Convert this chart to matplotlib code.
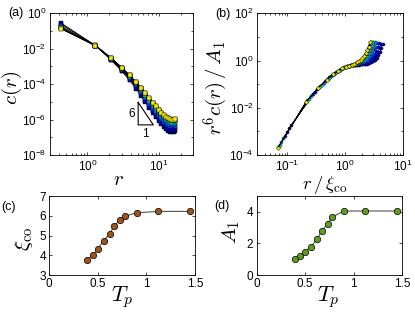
import numpy as np
import matplotlib
matplotlib.use("Agg")
import matplotlib.pyplot as plt
from matplotlib.ticker import LogLocator, NullFormatter, FixedLocator

plt.rcParams['font.family'] = ['Liberation Sans', 'DejaVu Sans']
plt.rcParams['mathtext.fontset'] = 'cm'
plt.rcParams['axes.linewidth'] = 0.6

#------------ data ---------
Tp = [0.39, 0.45, 0.50, 0.56, 0.62, 0.67, 0.73, 0.78, 0.90, 1.12, 1.45]
xi_co = [3.76, 4.01, 4.33, 4.74, 5.08, 5.49, 5.81, 5.98, 6.15, 6.22, 6.22]
A1 = [1.00, 1.20, 1.47, 1.80, 2.25, 2.78, 3.22, 3.68, 4.05, 4.05, 4.05]

r = [0.43, 1.29, 2.15, 3.01, 3.87, 4.73, 5.59, 6.45, 7.31, 8.17,
     9.03, 9.89, 10.75, 11.61, 12.47, 13.33, 14.19, 15.05, 15.91, 16.77]

# log10 c(r), one row per Tp
log10_c = [
    [-0.55, -1.82, -2.65, -3.27, -3.79, -4.25, -4.66, -5.03, -5.34, -5.62, -5.88, -6.08, -6.26, -6.42, -6.55, -6.64, -6.69, -6.71, -6.70, -6.66],
    [-0.59, -1.81, -2.63, -3.24, -3.74, -4.19, -4.59, -4.95, -5.27, -5.54, -5.79, -5.99, -6.17, -6.32, -6.44, -6.52, -6.58, -6.61, -6.60, -6.56],
    [-0.64, -1.81, -2.60, -3.20, -3.69, -4.13, -4.51, -4.87, -5.18, -5.45, -5.69, -5.89, -6.07, -6.21, -6.32, -6.41, -6.47, -6.49, -6.49, -6.44],
    [-0.72, -1.83, -2.61, -3.18, -3.66, -4.07, -4.45, -4.80, -5.10, -5.36, -5.59, -5.79, -5.96, -6.11, -6.22, -6.31, -6.36, -6.38, -6.38, -6.34],
    [-0.75, -1.82, -2.58, -3.15, -3.61, -4.01, -4.37, -4.71, -5.02, -5.27, -5.50, -5.69, -5.85, -6.00, -6.10, -6.19, -6.24, -6.27, -6.26, -6.22],
    [-0.81, -1.83, -2.57, -3.12, -3.57, -3.96, -4.30, -4.64, -4.93, -5.19, -5.41, -5.60, -5.76, -5.91, -6.01, -6.10, -6.15, -6.17, -6.17, -6.13],
    [-0.85, -1.84, -2.56, -3.11, -3.55, -3.93, -4.27, -4.59, -4.88, -5.13, -5.35, -5.54, -5.70, -5.84, -5.95, -6.03, -6.08, -6.11, -6.10, -6.06],
    [-0.84, -1.82, -2.53, -3.07, -3.51, -3.89, -4.23, -4.54, -4.83, -5.08, -5.30, -5.48, -5.65, -5.79, -5.89, -5.97, -6.03, -6.05, -6.05, -6.00],
    [-0.85, -1.81, -2.52, -3.06, -3.49, -3.87, -4.20, -4.51, -4.80, -5.04, -5.26, -5.44, -5.61, -5.75, -5.85, -5.93, -5.99, -6.01, -6.01, -5.96],
    [-0.88, -1.83, -2.53, -3.07, -3.50, -3.88, -4.21, -4.51, -4.80, -5.04, -5.26, -5.44, -5.61, -5.75, -5.85, -5.93, -5.99, -6.01, -6.01, -5.96],
    [-0.88, -1.83, -2.53, -3.07, -3.50, -3.88, -4.21, -4.51, -4.80, -5.04, -5.26, -5.44, -5.61, -5.75, -5.85, -5.93, -5.99, -6.01, -6.01, -5.96],
]

# slope-6 guide triangle in panel (a)
tri_r = [5.1, 8.3]
tri_c_low = 10**-6.3

#------------ figure ---------
fig = plt.figure(figsize=(4.15, 3.13), dpi=100)
ax_a = fig.add_axes([0.1205, 0.5048, 0.3453, 0.4527])
ax_b = fig.add_axes([0.6200, 0.5048, 0.3504, 0.4527])
ax_c = fig.add_axes([0.1188, 0.1214, 0.3510, 0.2524])
ax_d = fig.add_axes([0.6185, 0.1214, 0.3508, 0.2524])

for ax in (ax_a, ax_b, ax_c, ax_d):
    ax.tick_params(which='both', direction='in', top=True, right=True,
                   labelsize=8.5, width=0.5, pad=2.5)
    ax.tick_params(which='major', length=2.5)
    ax.tick_params(which='minor', length=1.5)

cmap = plt.get_cmap('jet')
n = len(Tp)
r_arr = np.array(r)
for i in range(n):
    col = cmap(0.66 * i / (n - 1))
    c = 10**np.array(log10_c[i])
    ax_a.plot(r_arr, c, '-', color='k', lw=0.5, marker='s', ms=2.2,
              mfc=col, mec='k', mew=0.25)
    ax_b.plot(r_arr / xi_co[i], r_arr**6 * c / A1[i], '-', color='k', lw=0.5,
              marker='o', ms=2.3, mfc=col, mec='k', mew=0.25)

# panel (a)
ax_a.set_xscale('log')
ax_a.set_yscale('log')
ax_a.set_xlim(0.3, 30)
ax_a.set_ylim(1e-8, 1)
ax_a.set_yticks([1e-8, 1e-6, 1e-4, 1e-2, 1])
ax_a.yaxis.set_minor_locator(FixedLocator([1e-7, 1e-5, 1e-3, 1e-1]))
ax_a.yaxis.set_minor_formatter(NullFormatter())
ax_a.xaxis.set_minor_locator(LogLocator(base=10, subs=np.arange(2, 10)))
ax_a.xaxis.set_minor_formatter(NullFormatter())
tri_top = tri_c_low * (tri_r[1] / tri_r[0])**6
ax_a.plot([tri_r[0], tri_r[0], tri_r[1], tri_r[0]],
          [tri_top, tri_c_low, tri_c_low, tri_top], 'k-', lw=0.8)
ax_a.text(tri_r[0] * 0.9, np.sqrt(tri_top * tri_c_low), '6', fontsize=8.5,
          ha='right', va='center')
ax_a.text(np.sqrt(tri_r[0] * tri_r[1]), tri_c_low * 0.7, '1', fontsize=8.5,
          ha='center', va='top')
ax_a.set_xlabel(r'$r$', fontsize=15, va='center')
ax_a.xaxis.set_label_coords(0.475, -0.176)
ax_a.set_ylabel(r'$c(r)$', fontsize=15, va='center')
ax_a.yaxis.set_label_coords(-0.265, 0.473)

# panel (b)
ax_b.set_xscale('log')
ax_b.set_yscale('log')
ax_b.set_xlim(0.03, 10)
ax_b.set_ylim(1e-4, 1e2)
ax_b.set_xticks([0.1, 1, 10])
ax_b.set_yticks([1e-4, 1e-2, 1, 1e2])
ax_b.yaxis.set_minor_locator(FixedLocator([1e-3, 1e-1, 1e1]))
ax_b.yaxis.set_minor_formatter(NullFormatter())
ax_b.xaxis.set_minor_locator(LogLocator(base=10, subs=np.arange(2, 10)))
ax_b.xaxis.set_minor_formatter(NullFormatter())
ax_b.set_xlabel(r'$r\,/\,\xi_{\mathrm{co}}$', fontsize=13.5, va='center')
ax_b.xaxis.set_label_coords(0.466, -0.215)
ax_b.set_ylabel(r'$r^6c(r)\,/\,A_1$', fontsize=15, va='center')
ax_b.yaxis.set_label_coords(-0.286, 0.471)

# panel (c)
ax_c.plot(Tp, xi_co, '-', color='#555555', lw=0.8, marker='o', ms=4.6,
          mfc='#a0521a', mec='k', mew=0.5)
ax_c.set_xlim(0, 1.5)
ax_c.set_ylim(3, 7)
ax_c.set_xticks([0, 0.5, 1, 1.5])
ax_c.set_xticklabels(['0', '0.5', '1', '1.5'])
ax_c.set_yticks([3, 4, 5, 6, 7])
ax_c.set_xlabel(r'$T_p$', fontsize=16, va='center')
ax_c.xaxis.set_label_coords(0.501, -0.275)
ax_c.set_ylabel(r'$\xi_{\mathrm{co}}$', fontsize=15, va='center')
ax_c.yaxis.set_label_coords(-0.174, 0.456)

# panel (d)
ax_d.plot(Tp, A1, '-', color='#555555', lw=0.8, marker='o', ms=4.6,
          mfc='#5e9e1e', mec='k', mew=0.5)
ax_d.set_xlim(0, 1.5)
ax_d.set_ylim(0, 5)
ax_d.set_xticks([0, 0.5, 1, 1.5])
ax_d.set_xticklabels(['0', '0.5', '1', '1.5'])
ax_d.set_yticks([0, 2, 4])
ax_d.set_xlabel(r'$T_p$', fontsize=16, va='center')
ax_d.xaxis.set_label_coords(0.492, -0.275)
ax_d.set_ylabel(r'$A_1$', fontsize=15, va='center')
ax_d.yaxis.set_label_coords(-0.172, 0.548)

# panel letters
for lab, x, y in (('(a)', 0.0386, 0.9575), ('(b)', 0.537, 0.955),
                  ('(c)', 0.021, 0.34), ('(d)', 0.535, 0.343)):
    fig.text(x, y, lab, fontsize=9, ha='center', va='center')

fig.savefig('out.png', dpi=100)
